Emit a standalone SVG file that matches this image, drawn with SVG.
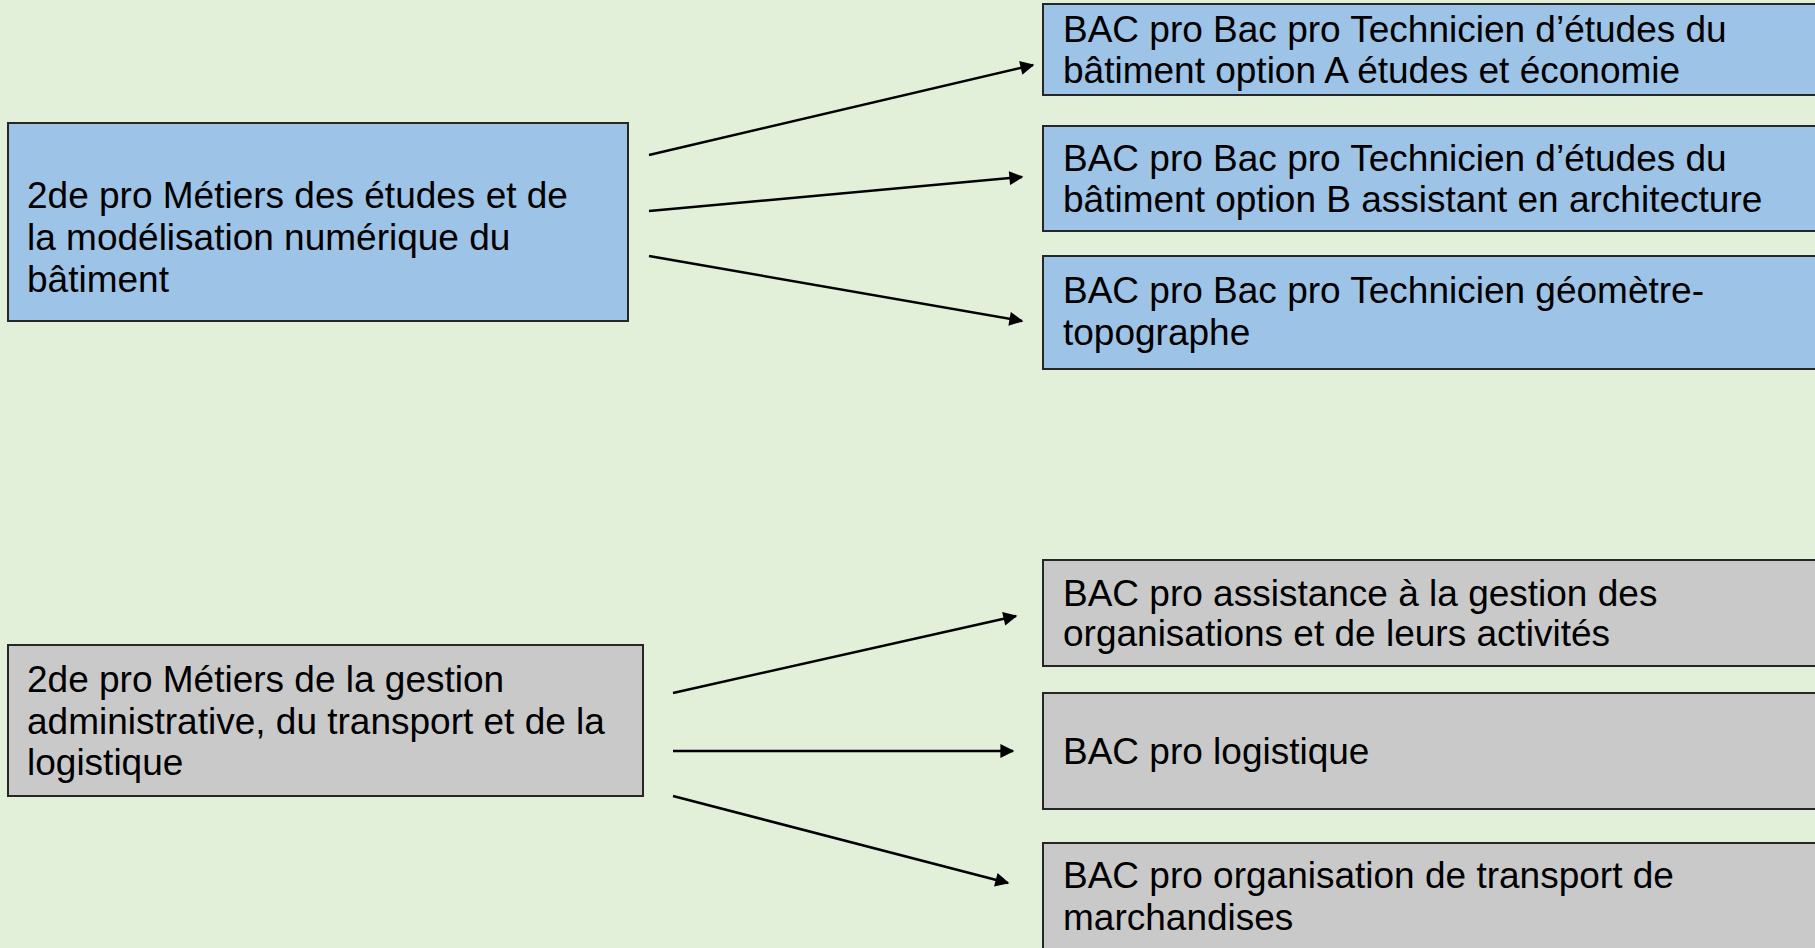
<svg xmlns="http://www.w3.org/2000/svg" width="1815" height="948" viewBox="0 0 1815 948">
<defs>
<style>
.box{stroke:#262626;stroke-width:2}
.blue{fill:#9DC3E6}
.gray{fill:#C9C9C9}
.t{font-family:"Liberation Sans",Arial,sans-serif;font-size:37px;fill:#000}
.c{stroke:#000;stroke-width:2.5;fill:none;marker-end:url(#ah)}
</style>
<marker id="ah" viewBox="0 0 10 10" refX="9" refY="5" markerWidth="7" markerHeight="5.6" markerUnits="strokeWidth" orient="auto">
<path d="M0,0 L10,5 L0,10 z" fill="#000"/>
</marker>
</defs>
<rect width="1815" height="948" fill="#E2EFD9"/>
<g id="n1">
<rect class="box blue" x="8" y="123" width="620" height="198"/>
<text class="t" x="27"><tspan x="27" y="208">2de pro Métiers des études et de</tspan><tspan x="27" y="250">la modélisation numérique du</tspan><tspan x="27" y="292">bâtiment</tspan></text>
</g>
<g id="n2">
<rect class="box blue" x="1043" y="4" width="790" height="91"/>
<text class="t"><tspan x="1063" y="42">BAC pro Bac pro Technicien d’études du</tspan><tspan x="1063" y="83">bâtiment option A études et économie</tspan></text>
</g>
<g id="n3">
<rect class="box blue" x="1043" y="126" width="790" height="105"/>
<text class="t"><tspan x="1063" y="171">BAC pro Bac pro Technicien d’études du</tspan><tspan x="1063" y="212">bâtiment option B assistant en architecture</tspan></text>
</g>
<g id="n4">
<rect class="box blue" x="1043" y="256" width="790" height="113"/>
<text class="t"><tspan x="1063" y="303">BAC pro Bac pro Technicien géomètre-</tspan><tspan x="1063" y="345">topographe</tspan></text>
</g>
<g id="n5">
<rect class="box gray" x="8" y="645" width="635" height="151"/>
<text class="t"><tspan x="27" y="692">2de pro Métiers de la gestion</tspan><tspan x="27" y="734">administrative, du transport et de la</tspan><tspan x="27" y="775">logistique</tspan></text>
</g>
<g id="n6">
<rect class="box gray" x="1043" y="560" width="790" height="106"/>
<text class="t"><tspan x="1063" y="606">BAC pro assistance à la gestion des</tspan><tspan x="1063" y="646">organisations et de leurs activités</tspan></text>
</g>
<g id="n7">
<rect class="box gray" x="1043" y="693" width="790" height="116"/>
<text class="t" x="1063" y="764">BAC pro logistique</text>
</g>
<g id="n8">
<rect class="box gray" x="1043" y="843" width="790" height="120"/>
<text class="t"><tspan x="1063" y="888">BAC pro organisation de transport de</tspan><tspan x="1063" y="930">marchandises</tspan></text>
</g>
<g id="connectors">
<line class="c" x1="649" y1="155" x2="1033" y2="65"/>
<line class="c" x1="649" y1="211" x2="1022" y2="177"/>
<line class="c" x1="649" y1="256" x2="1022" y2="321"/>
<line class="c" x1="673" y1="693" x2="1016" y2="616"/>
<line class="c" x1="673" y1="751" x2="1013" y2="751"/>
<line class="c" x1="673" y1="796" x2="1008" y2="883"/>
</g>
</svg>
